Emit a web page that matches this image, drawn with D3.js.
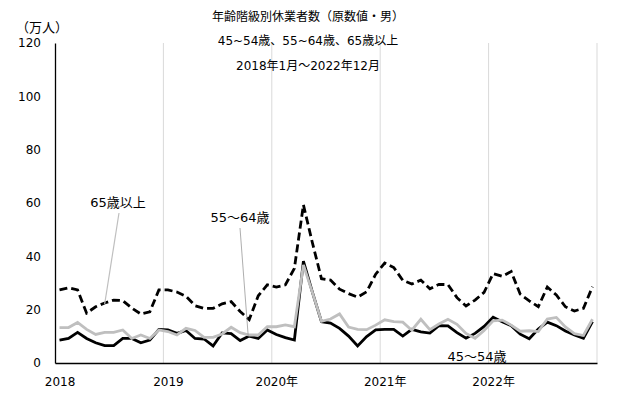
<!DOCTYPE html>
<html>
<head>
<meta charset="utf-8">
<script src="https://cdn.jsdelivr.net/npm/d3@7"></script>
<style>
  body { margin: 0; background: #fff; }
  svg text { font-family: "DejaVu Sans", "Noto Sans CJK JP", sans-serif; fill: #000; }
</style>
</head>
<body>
<div id="container"></div>
<script>
/* DATA (万人, 2018年1月〜2022年12月) */
const years = [2018, 2019, 2020, 2021, 2022];
const yearLabels = ["2018", "2019", "2020年", "2021年", "2022年"];
const yTicks = [0, 20, 40, 60, 80, 100, 120];

// 45～54歳 (black solid)
const age45_54 = [
  8.6, 9.2, 11.5, 9.2, 7.6, 6.5, 6.5, 9.2, 9.2, 7.6, 8.6, 12.6,
  12.4, 11.1, 12.2, 9.2, 9.0, 6.4, 11.3, 11.0, 8.4, 10.1, 9.2, 12.4,
  10.7, 9.5, 8.6, 38.2, 26.5, 15.5, 15.0, 13.0, 10.1, 6.4, 9.9, 12.4,
  12.6, 12.6, 10.1, 12.6, 11.7, 11.2, 14.0, 13.9, 11.4, 9.3, 11.1, 13.7,
  17.2, 15.5, 14.0, 10.8, 9.1, 12.7, 15.3, 14.0, 12.0, 10.5, 9.3, 15.5
];
// 55～64歳 (gray solid)
const age55_64 = [
  13.3, 13.3, 15.2, 12.6, 10.7, 11.5, 11.5, 12.4, 9.2, 10.5, 9.2, 12.4,
  11.8, 10.5, 13.0, 12.2, 9.6, 9.6, 10.9, 13.4, 11.4, 10.5, 10.5, 13.6,
  13.6, 14.3, 13.6, 36.8, 26.4, 15.6, 16.5, 18.4, 13.5, 12.6, 12.5, 14.2,
  16.2, 15.5, 15.3, 12.3, 16.4, 12.5, 14.6, 16.4, 14.5, 11.1, 9.3, 12.2,
  15.8, 16.1, 14.2, 11.9, 12.1, 11.8, 16.5, 17.1, 13.5, 11.0, 10.3, 16.4
];
// 65歳以上 (black dashed)
const age65plus = [
  27.4, 28.2, 27.4, 18.7, 21.1, 22.5, 23.6, 23.4, 20.6, 18.4, 19.2, 27.4,
  27.4, 26.6, 25.0, 21.5, 20.5, 20.5, 22.2, 23.0, 19.3, 16.3, 25.2, 29.3,
  28.5, 29.3, 35.5, 59.3, 45.0, 31.6, 31.1, 27.7, 26.0, 24.7, 26.7, 33.3,
  37.5, 35.8, 31.0, 29.6, 31.1, 27.8, 29.5, 29.4, 24.5, 21.4, 23.6, 26.5,
  33.5, 32.5, 34.3, 25.8, 23.3, 21.1, 28.5, 25.5, 21.1, 19.5, 20.5, 28.6
];

const months = d3.range(age45_54.length);

const width = 625, height = 400,
      margin = {top: 43, bottom: 37, left: 55, right: 28};

const svg = d3.select("#container").append("svg")
  .attr("width", width)
  .attr("height", height);

// scales
const xScale = d3.scalePoint()
  .domain(months)
  .range([margin.left, width - margin.right])
  .padding(0.5);
const step = xScale.step();

const yScale = d3.scaleLinear()
  .domain([0, 120])
  .range([height - margin.bottom, margin.top]);

// vertical year gridlines (category boundaries) + right edge
const gridX = years.slice(1).map((y, i) => xScale((i + 1) * 12) - step / 2)
  .concat([width - margin.right]);
svg.append("g")
  .selectAll("line")
  .data(gridX)
  .join("line")
    .attr("x1", d => d).attr("x2", d => d)
    .attr("y1", yScale(120)).attr("y2", yScale(0))
    .attr("stroke", "#d9d9d9")
    .attr("stroke-width", 1);

// axes
const yAxis = d3.axisLeft(yScale).tickValues(yTicks).tickSize(0).tickPadding(14);
svg.append("g")
  .attr("transform", `translate(${margin.left},0)`)
  .call(yAxis)
  .call(g => g.select(".domain").attr("stroke", "#000").attr("stroke-width", 1.3))
  .call(g => g.selectAll("text").attr("font-size", "12px"));

const xAxis = d3.axisBottom(xScale)
  .tickValues(years.map((y, i) => i * 12))
  .tickFormat((d, i) => yearLabels[i])
  .tickSize(0).tickPadding(14);
svg.append("g")
  .attr("transform", `translate(0,${yScale(0)})`)
  .call(xAxis)
  .call(g => g.select(".domain").attr("stroke", "#000").attr("stroke-width", 1.3))
  .call(g => g.selectAll("text").attr("font-size", "12px"));

// lines
const line = d3.line()
  .x((d, i) => xScale(i))
  .y(d => yScale(d));

const series = [
  {values: age45_54, color: "#000", dash: null},
  {values: age55_64, color: "#bfbfbf", dash: null},
  {values: age65plus, color: "#000", dash: "8,4"}
];

svg.selectAll("path.series")
  .data(series)
  .join("path")
    .attr("class", "series")
    .attr("d", d => line(d.values))
    .attr("fill", "none")
    .attr("stroke", d => d.color)
    .attr("stroke-width", 2.8)
    .attr("stroke-linejoin", "miter")
    .attr("stroke-dasharray", d => d.dash);

// leader lines for labels
svg.append("line")
  .attr("x1", 119).attr("y1", 213)
  .attr("x2", xScale(5)).attr("y2", yScale(age65plus[5]) + 1)
  .attr("stroke", "#bfbfbf").attr("stroke-width", 1.2);
svg.append("line")
  .attr("x1", 240).attr("y1", 228)
  .attr("x2", xScale(21) - 1).attr("y2", yScale(age55_64[21]) + 1)
  .attr("stroke", "#999").attr("stroke-width", 0.8);

// labels
const labels = [
  {text: "65歳以上", x: 118, y: 202},
  {text: "55～64歳", x: 240, y: 217},
  {text: "45～54歳", x: 477, y: 356}
];
svg.selectAll("text.label")
  .data(labels)
  .join("text")
    .attr("class", "label")
    .attr("x", d => d.x).attr("y", d => d.y)
    .attr("dy", "0.35em")
    .attr("text-anchor", "middle")
    .attr("font-size", "13px")
    .text(d => d.text);

// titles
const titles = [
  {text: "年齢階級別休業者数（原数値・男）", y: 17},
  {text: "45~54歳、55~64歳、65歳以上", y: 41},
  {text: "2018年1月～2022年12月", y: 66}
];
svg.selectAll("text.title")
  .data(titles)
  .join("text")
    .attr("class", "title")
    .attr("x", 308).attr("y", d => d.y)
    .attr("dy", "0.35em")
    .attr("text-anchor", "middle")
    .attr("font-size", "12px")
    .text(d => d.text);

svg.append("text")
  .attr("x", 42).attr("y", 27)
  .attr("dy", "0.35em")
  .attr("text-anchor", "middle")
  .attr("font-size", "13px")
  .text("（万人）");
</script>
</body>
</html>
